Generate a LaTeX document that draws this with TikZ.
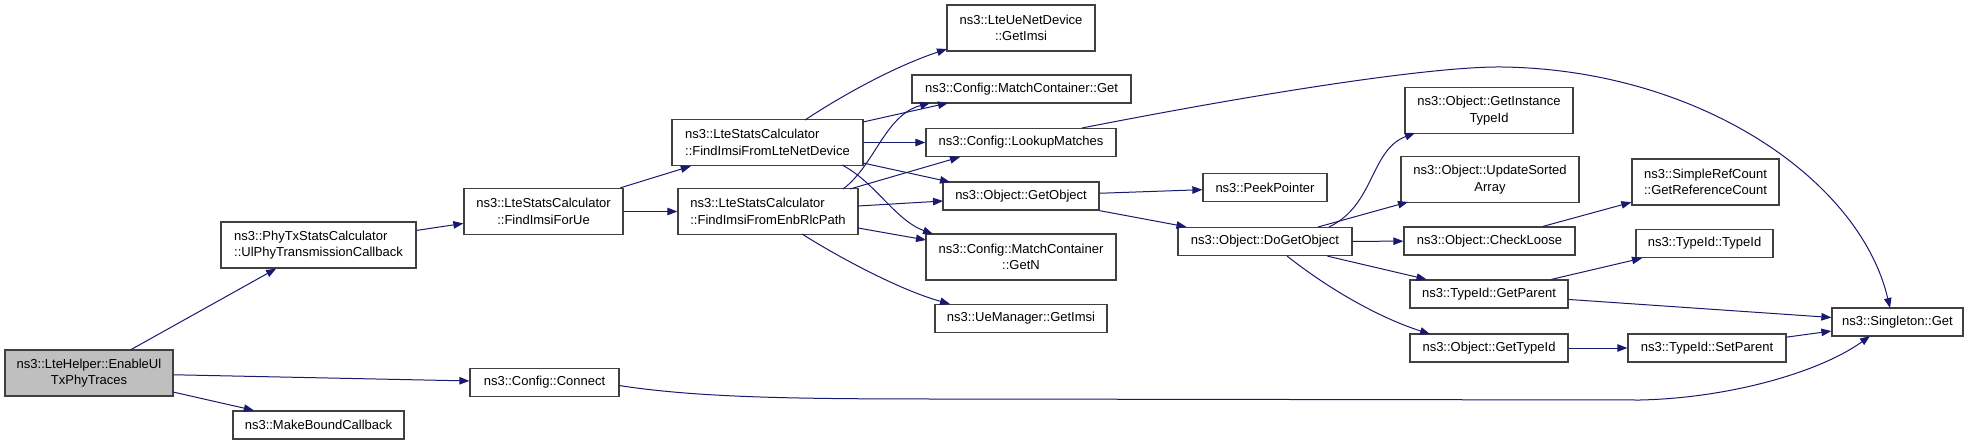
\documentclass[tikz,border=0pt]{standalone}
\usepackage{fontspec}
\setmainfont{Liberation Sans}
\usetikzlibrary{arrows.meta,calc}
\definecolor{edgeblue}{RGB}{25,25,112}
\definecolor{boxline}{RGB}{64,64,64}
\definecolor{graybox}{RGB}{191,191,191}
\begin{document}
\begin{tikzpicture}[x=1pt,y=-1pt,
  box/.style={draw=boxline, line width=1.3pt, fill=white, inner sep=0pt, align=center,
    font=\fontsize{13}{16.5}\selectfont, text=black},
  one/.style={box, minimum height=28pt},
  two/.style={box, minimum height=46pt},
  e/.style={draw=edgeblue, line width=1pt, -{Triangle[length=10pt,width=7.5pt]}}]
\useasboundingbox (0,0) rectangle (1973,445);
\fill[white] (0,0) rectangle (1973,445);
% nodes
\node[two, fill=graybox, minimum width=168pt] (enable) at (89,373) {ns3::LteHelper::EnableUl\\TxPhyTraces};
\node[two, minimum width=195pt, align=left] (phytx) at (318.5,245) {ns3::PhyTxStatsCalculator\\::UlPhyTransmissionCallback};
\node[two, minimum width=159pt] (findue) at (543.5,211.5) {ns3::LteStatsCalculator\\::FindImsiForUe};
\node[two, minimum width=191pt, align=left] (fromlte) at (767.5,142.5) {ns3::LteStatsCalculator\\::FindImsiFromLteNetDevice};
\node[two, minimum width=180pt, align=left] (fromenb) at (768,211.5) {ns3::LteStatsCalculator\\::FindImsiFromEnbRlcPath};
\node[two, minimum width=148pt] (ueimsi) at (1021,28) {ns3::LteUeNetDevice\\::GetImsi};
\node[one, minimum width=219pt] (mcget) at (1021.5,89) {ns3::Config::MatchContainer::Get};
\node[one, minimum width=190pt] (lookup) at (1021,142.5) {ns3::Config::LookupMatches};
\node[one, minimum width=156pt] (getobj) at (1021,196) {ns3::Object::GetObject};
\node[two, minimum width=190pt] (mcgetn) at (1021,257) {ns3::Config::MatchContainer\\::GetN};
\node[one, minimum width=172pt] (uemgr) at (1021,318.5) {ns3::UeManager::GetImsi};
\node[one, minimum width=124pt] (peek) at (1265,187.5) {ns3::PeekPointer};
\node[one, minimum width=174pt] (dogetobj) at (1265,241.5) {ns3::Object::DoGetObject};
\node[two, minimum width=168pt] (instid) at (1489,110.5) {ns3::Object::GetInstance\\TypeId};
\node[two, minimum width=178pt] (usa) at (1490,179.5) {ns3::Object::UpdateSorted\\Array};
\node[one, minimum width=171pt] (checkloose) at (1489.5,241) {ns3::Object::CheckLoose};
\node[one, minimum width=158pt] (getparent) at (1489,294) {ns3::TypeId::GetParent};
\node[one, minimum width=158pt] (gettypeid) at (1489,348) {ns3::Object::GetTypeId};
\node[two, minimum width=147pt] (refcount) at (1705.5,182) {ns3::SimpleRefCount\\::GetReferenceCount};
\node[one, minimum width=137pt] (typeidtypeid) at (1704.5,243.5) {ns3::TypeId::TypeId};
\node[one, minimum width=158pt] (setparent) at (1707,348) {ns3::TypeId::SetParent};
\node[one, minimum width=131pt] (singleton) at (1897.5,322) {ns3::Singleton::Get};
\node[one, minimum width=149pt] (connect) at (544.5,382.5) {ns3::Config::Connect};
\node[one, minimum width=171pt] (makebound) at (318.5,425) {ns3::MakeBoundCallback};
% edges
\draw[e] (enable) -- (phytx);
\draw[e] (enable) -- (connect);
\draw[e] (enable) -- (makebound);
\draw[e] (phytx) -- (findue);
\draw[e] (findue) -- (fromlte);
\draw[e] (findue) -- (fromenb);
\draw[e] ($(fromlte)+(37.5,-22.5)$) .. controls (835,100) and (890,68) .. ($(ueimsi)+(-74,21)$);
\draw[e] ($(fromlte)+(95.5,-20.5)$) -- ($(mcget)+(-73.5,14)$);
\draw[e] (fromlte) -- (lookup);
\draw[e] ($(fromlte)+(95.5,20.5)$) -- ($(getobj)+(-71,-14)$);
\draw[e] ($(fromlte)+(74.5,22.5)$) .. controls (875,182) and (895,220) .. ($(mcgetn)+(-88,-23)$);
\draw[e] ($(fromenb)+(75,-22.5)$) .. controls (875,165) and (885,115) .. ($(mcget)+(-91.5,14)$);
\draw[e] ($(fromenb)+(82,-22.5)$) -- ($(lookup)+(-61,14.5)$);
\draw[e] ($(fromenb)+(90,-5.5)$) -- ($(getobj)+(-78,5)$);
\draw[e] ($(fromenb)+(90,16.5)$) -- ($(mcgetn)+(-95,-17)$);
\draw[e] ($(fromenb)+(34,22.5)$) .. controls (840,258) and (900,290) .. ($(uemgr)+(-71,-14.5)$);
\draw[e] ($(lookup)+(61,-14.5)$) .. controls (1250,95) and (1430,66) .. (1503,67) .. controls (1700,70) and (1860,180) .. ($(singleton)+(-7.5,-14)$);
\draw[e] (getobj) -- (peek);
\draw[e] (getobj) -- (dogetobj);
\draw[e] ($(dogetobj)+(64,-14.5)$) .. controls (1375,205) and (1370,150) .. ($(instid)+(-74,22.5)$);
\draw[e] ($(dogetobj)+(53,-14.5)$) -- ($(usa)+(-82,22.5)$);
\draw[e] (dogetobj) -- (checkloose);
\draw[e] (dogetobj) -- (getparent);
\draw[e] ($(dogetobj)+(22,14.5)$) .. controls (1330,290) and (1380,318) .. ($(gettypeid)+(-59,-14)$);
\draw[e] (checkloose) -- (refcount);
\draw[e] (getparent) -- (typeidtypeid);
\draw[e] (getparent) -- (singleton);
\draw[e] (gettypeid) -- (setparent);
\draw[e] (setparent) -- (singleton);
\draw[e] ($(connect)+(74.5,3)$) .. controls (700,398) and (800,399) .. (950,399) -- (1640,400) .. controls (1730,398) and (1820,372) .. ($(singleton)+(-27.5,14)$);
\end{tikzpicture}
\end{document}
